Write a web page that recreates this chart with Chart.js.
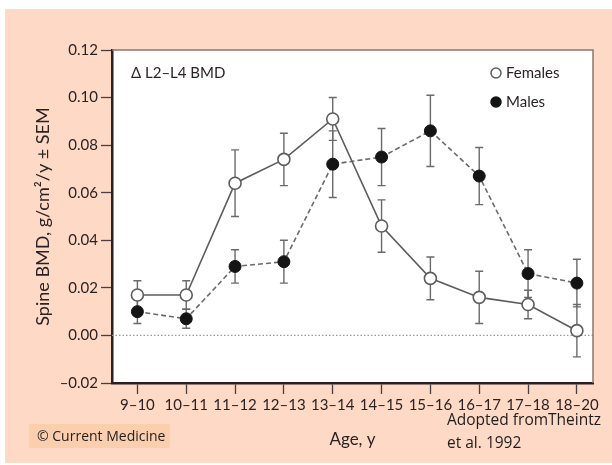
<!DOCTYPE html>
<html>
<head>
<meta charset="utf-8">
<script src="https://cdn.jsdelivr.net/npm/chart.js@4/dist/chart.umd.min.js"></script>
<style>
  html, body { margin: 0; padding: 0; background: #fff; }
  canvas { display: block; }
</style>
</head>
<body>
<canvas id="chartBmd" width="612" height="465"></canvas>
<script>
// age groups on the x axis
const ageLabels = ['9–10', '10–11', '11–12', '12–13', '13–14', '14–15', '15–16', '16–17', '17–18', '18–20'];

// mean yearly gain in L2-L4 BMD and SEM
const femaleBmd = [0.017, 0.017, 0.064, 0.074, 0.091, 0.046, 0.024, 0.016, 0.013, 0.002];
const femaleSem = [0.006, 0.006, 0.014, 0.011, 0.009, 0.011, 0.009, 0.011, 0.006, 0.011];
const maleBmd = [0.010, 0.007, 0.029, 0.031, 0.072, 0.075, 0.086, 0.067, 0.026, 0.022];
const maleSem = [0.005, 0.004, 0.007, 0.009, 0.014, 0.012, 0.015, 0.012, 0.010, 0.010];

const yTicks = [-0.02, 0, 0.02, 0.04, 0.06, 0.08, 0.10, 0.12];

const toPoints = arr => arr.map((v, i) => ({ x: i, y: v }));

const tickFont = { family: 'Lato', size: 15 };
const inkColor = '#2b2323';

// backgrounds, frame, zero line, notes
const decor = {
  id: 'decor',
  beforeDraw(chart) {
    const { ctx, chartArea: a } = chart;
    ctx.save();
    ctx.fillStyle = '#ffffff';
    ctx.fillRect(0, 0, chart.width, chart.height);
    ctx.fillStyle = '#fdd9c6';
    ctx.fillRect(5, 9, chart.width - 5, 454);
    ctx.fillStyle = '#fbcfae';
    ctx.fillRect(29, 424, 141, 24);
    ctx.fillStyle = '#ffffff';
    ctx.fillRect(a.left, a.top, a.right - a.left, a.bottom - a.top);
    ctx.restore();
  },
  beforeDatasetsDraw(chart) {
    const { ctx, chartArea: a, scales: { x, y } } = chart;
    ctx.save();
    // zero line
    const y0 = y.getPixelForValue(0);
    ctx.strokeStyle = '#9a9a9a';
    ctx.lineWidth = 1.2;
    ctx.setLineDash([1.5, 2]);
    ctx.beginPath();
    ctx.moveTo(a.left, y0);
    ctx.lineTo(a.right, y0);
    ctx.stroke();
    ctx.setLineDash([]);

    // error bars (mean ± SEM)
    ctx.strokeStyle = '#6a6a6a';
    ctx.lineWidth = 1.4;
    const bars = [[femaleBmd, femaleSem], [maleBmd, maleSem]];
    bars.forEach(([mean, sem]) => {
      mean.forEach((m, i) => {
        const px = x.getPixelForValue(i);
        const hi = y.getPixelForValue(m + sem[i]);
        const lo = y.getPixelForValue(m - sem[i]);
        ctx.beginPath();
        ctx.moveTo(px, hi); ctx.lineTo(px, lo);
        ctx.moveTo(px - 4, hi); ctx.lineTo(px + 4, hi);
        ctx.moveTo(px - 4, lo); ctx.lineTo(px + 4, lo);
        ctx.stroke();
      });
    });
    ctx.restore();
  },
  afterDraw(chart) {
    const { ctx, chartArea: a } = chart;
    ctx.save();
    // thin top and right frame
    ctx.strokeStyle = '#8e7668';
    ctx.lineWidth = 1.5;
    ctx.beginPath();
    ctx.moveTo(a.left, a.top);
    ctx.lineTo(a.right, a.top);
    ctx.lineTo(a.right, a.bottom);
    ctx.stroke();

    ctx.textBaseline = 'middle';

    // panel label
    ctx.fillStyle = inkColor;
    ctx.font = '15px Lato';
    ctx.fillText('Δ L2–L4 BMD', a.left + 19, a.top + 23);

    // legend
    chart.data.datasets.forEach((ds, i) => {
      const cy = a.top + 23 + i * 29;
      const cx = a.right - 97;
      ctx.beginPath();
      ctx.arc(cx, cy, 5, 0, Math.PI * 2);
      ctx.fillStyle = ds.pointBackgroundColor;
      ctx.fill();
      ctx.lineWidth = 1.5;
      ctx.strokeStyle = ds.pointBorderColor;
      ctx.stroke();
      ctx.fillStyle = inkColor;
      ctx.font = '15px Lato';
      ctx.fillText(ds.label, cx + 10, cy);
    });

    // source notes
    ctx.fillStyle = '#1e1e1e';
    ctx.font = '14px "Open Sans"';
    ctx.fillText('© Current Medicine', 37, 437);
    ctx.font = '15.5px "Open Sans"';
    ctx.fillText('Adopted fromTheintz', 447, 421);
    ctx.fillText('et al. 1992', 447, 444);
    ctx.restore();
  }
};

new Chart(document.getElementById('chartBmd'), {
  type: 'line',
  data: {
    datasets: [
      {
        label: 'Females',
        data: toPoints(femaleBmd),
        borderColor: '#5c5c5c',
        borderWidth: 1.6,
        pointBackgroundColor: '#ffffff',
        pointBorderColor: '#5c5c5c',
        pointBorderWidth: 1.6,
        pointRadius: 6,
        tension: 0,
        order: 2
      },
      {
        label: 'Males',
        data: toPoints(maleBmd),
        borderColor: '#6a6a6a',
        borderWidth: 1.6,
        borderDash: [5, 3],
        pointBackgroundColor: '#141414',
        pointBorderColor: '#141414',
        pointBorderWidth: 1,
        pointRadius: 6,
        tension: 0,
        order: 1
      }
    ]
  },
  options: {
    responsive: false,
    devicePixelRatio: 1,
    animation: false,
    layout: { padding: { top: 50, right: 19, left: 0, bottom: 0 } },
    plugins: { legend: { display: false }, tooltip: { enabled: false } },
    scales: {
      x: {
        type: 'linear',
        min: -0.52,
        max: 9.33,
        afterBuildTicks: s => { s.ticks = ageLabels.map((_, i) => ({ value: i })); },
        afterFit: s => { s.height = 82; },
        grid: { drawOnChartArea: false, tickColor: '#4a4040', tickLength: 11, tickWidth: 1.3 },
        border: { color: '#2a2020', width: 2.5 },
        ticks: {
          font: tickFont,
          color: inkColor,
          padding: 2,
          maxRotation: 0,
          autoSkip: false,
          callback: v => ageLabels[v]
        },
        title: {
          display: true,
          text: 'Age, y',
          font: { family: 'Lato', size: 17 },
          color: inkColor,
          padding: { top: 0, bottom: 15 }
        }
      },
      y: {
        min: -0.02,
        max: 0.12,
        afterBuildTicks: s => { s.ticks = yTicks.map(v => ({ value: v })); },
        afterFit: s => { s.width = 112; },
        grid: { drawOnChartArea: false, tickColor: '#4a4040', tickLength: 11, tickWidth: 1.3 },
        border: { color: '#2a2020', width: 2.5 },
        ticks: {
          font: tickFont,
          color: inkColor,
          padding: 3,
          callback: v => v.toFixed(2).replace('-', '–')
        },
        title: {
          display: true,
          text: 'Spine BMD, g/cm²/y ± SEM',
          font: { family: 'Lato', size: 18 },
          color: inkColor,
          padding: { top: 32, bottom: 0 }
        }
      }
    }
  },
  plugins: [decor]
});
</script>
</body>
</html>
